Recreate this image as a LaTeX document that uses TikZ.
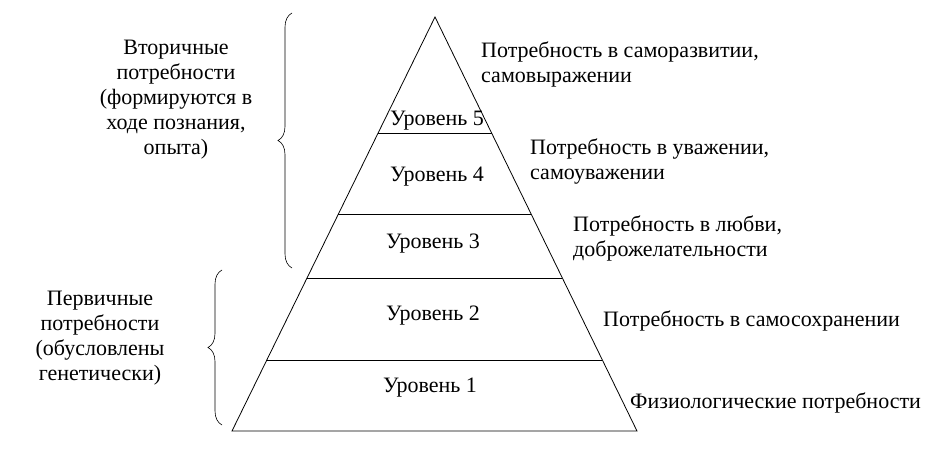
\documentclass[tikz,border=0pt]{standalone}
\usepackage{fontspec}
\setmainfont{Liberation Serif}
\usetikzlibrary{decorations.pathreplacing}
\begin{document}
\begin{tikzpicture}[x=1pt,y=-1pt,
  lvl/.style={font=\fontsize{22}{25}\selectfont},
  need/.style={font=\fontsize{22}{25}\selectfont,anchor=west,align=left,inner sep=0pt},
  group/.style={font=\fontsize{22}{25}\selectfont,align=center},
  brc/.style={decorate,decoration={brace,amplitude=14pt},line width=0.6pt}]
\useasboundingbox (0,0) rectangle (935,468);
% Pyramid
\coordinate (top) at (435,17);
\coordinate (bl) at (232,431);
\coordinate (br) at (637,431);
\draw[line width=0.8pt] (top) -- (bl) -- (br) -- cycle;
\draw[line width=0.6pt] (378,133) -- (492,133);
\draw[line width=0.6pt] (338,214) -- (531,214);
\draw[line width=0.6pt] (307,278) -- (562,278);
\draw[line width=0.6pt] (267,360) -- (602,360);

% Levels
\node[lvl] (l5) at (437,121) {Уровень 5};
\node[lvl] (l4) at (437,177) {Уровень 4};
\node[lvl] (l3) at (433,244) {Уровень 3};
\node[lvl] (l2) at (433,316) {Уровень 2};
\node[lvl] (l1) at (430,388) {Уровень 1};

% Needs
\node[need] (n5) at (481,64) {Потребность в саморазвитии,\\самовыражении};
\node[need] (n4) at (530,162) {Потребность в уважении,\\самоуважении};
\node[need] (n3) at (573,238) {Потребность в любви,\\доброжелательности};
\node[need] (n2) at (603,321) {Потребность в самосохранении};
\node[need] (n1) at (630,403) {Физиологические потребности};

% Groups
\draw[brc] (292,268) -- (292,13);
\draw[brc] (222,425) -- (222,270);
\node[group] (g2) at (176,100) {Вторичные\\потребности\\(формируются в\\ходе познания,\\опыта)};
\node[group] (g1) at (100,338) {Первичные\\потребности\\(обусловлены\\генетически)};
\end{tikzpicture}
\end{document}
